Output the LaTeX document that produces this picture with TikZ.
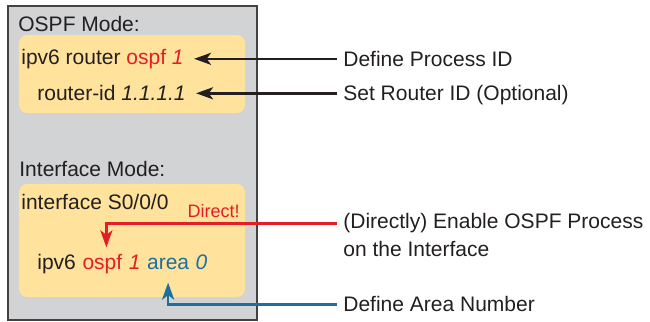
\documentclass[tikz,border=0pt]{standalone}
\usepackage{fontspec}
\setmainfont{Liberation Sans}
\usetikzlibrary{arrows.meta,positioning}
\definecolor{modegray}{RGB}{209,211,212}
\definecolor{cmdyellow}{RGB}{255,226,155}
\definecolor{ospfred}{RGB}{228,30,38}
\definecolor{areablue}{RGB}{30,110,160}
\definecolor{inkblack}{RGB}{35,31,32}

\begin{document}
\begin{tikzpicture}[x=0.5pt,y=-0.5pt,font=\fontsize{10.5}{12.6}\selectfont,
   cmd/.style={inner sep=0pt,anchor=base west,text=inkblack},
   lbl/.style={inner xsep=3pt,inner ysep=0pt,anchor=base west,
               text height=.72em,text depth=0pt,text=inkblack},
   pane/.style={fill=cmdyellow,rounded corners=4pt},
   tip/.style={-{Stealth[length=8.5pt,width=6pt,inset=2.2pt]},line width=1.3pt}]
  \useasboundingbox (0,0) rectangle (650,322);
  \draw[fill=modegray,draw=inkblack!85,line width=1pt] (8,6) rectangle (257,320);
  \fill[pane] (19,35) rectangle (245,113);
  \fill[pane] (19,184) rectangle (245,297);
  \node[cmd] (ospfmode) at (18,31.5) {OSPF Mode:};
  \node[cmd] (rtrcmd) at (21,64) {ipv6 router \textcolor{ospfred}{ospf \textit{1}}};
  \node[cmd] (ridcmd) at (37,100) {router-id \textit{1.1.1.1}};
  \node[cmd] (ifmode) at (19,176.5) {Interface Mode:};
  \node[cmd] (intcmd) at (21,209) {interface S0/0/0};
  \node[cmd,anchor=base east,text=ospfred,font=\fontsize{9}{11}\selectfont]
       (direct) at (240,217) {Direct!};
  \node[cmd] (ifipv6) at (37,269) {ipv6};
  \node[cmd,text=ospfred,base right=2.9pt of ifipv6] (ifospf) {ospf};
  \node[cmd,text=ospfred,base right=2.9pt of ifospf] (ifproc) {\textit{1}};
  \node[cmd,text=areablue,base right=2.9pt of ifproc] (ifarea) {area};
  \node[cmd,text=areablue,base right=2.9pt of ifarea] (ifnum) {\textit{0}};
  \node[lbl] (pid) at (337,66) {Define Process ID};
  \node[lbl] (rid) at (337,100.5) {Set Router ID (Optional)};
  \node[lbl] (enable) at (337,228) {(Directly) Enable OSPF Process};
  \node[lbl] (enable2) at (337,256) {on the Interface};
  \node[lbl] (areadef) at (337,311.5) {Define Area Number};
  \draw[tip,inkblack,shorten >=5pt] (pid.west) -- (pid.west -| rtrcmd.east);
  \draw[tip,inkblack,shorten >=5pt] (rid.west) -- (rid.west -| ridcmd.east);
  \draw[tip,ospfred,shorten >=3pt] ([yshift=-1.45pt]enable.west) -| ([xshift=2pt]ifospf.north);
  \draw[tip,areablue,shorten >=6.5pt] (areadef.west) -| (ifarea.south);
\end{tikzpicture}
\end{document}
